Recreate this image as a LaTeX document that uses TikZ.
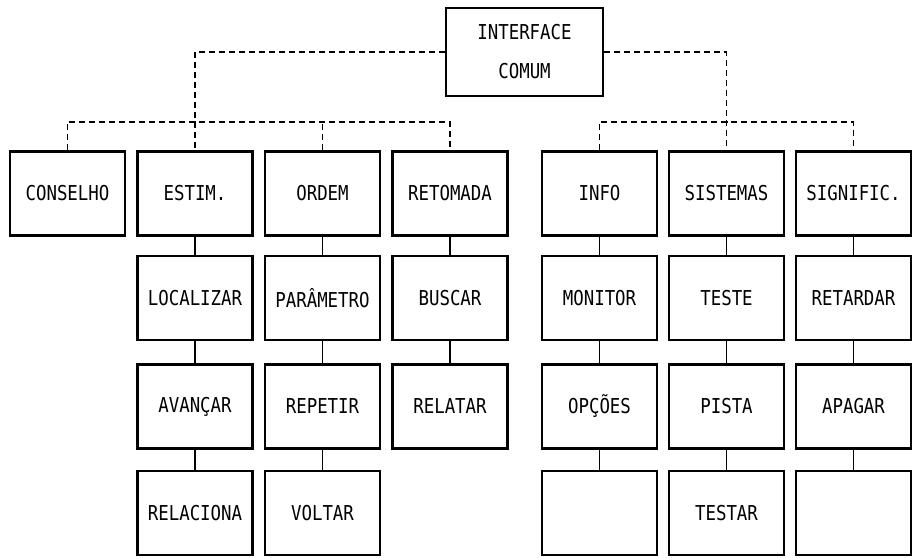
\documentclass[tikz,border=0pt]{standalone}
\usepackage{fontspec}
\newfontfamily\dotfont[FakeStretch=0.85]{DejaVu Sans Mono}
\usetikzlibrary{positioning}

\begin{document}
\begin{tikzpicture}[x=1pt,y=-1pt,
  blk/.style={draw,line width=2.4pt,minimum width=115pt,minimum height=84pt,inner sep=2pt,
    font=\dotfont\fontsize{20.5}{24}\selectfont},
  bus/.style={line width=1.3pt,dash pattern=on 6pt off 4pt},
  link/.style={line width=1.3pt}]
\useasboundingbox (0,0) rectangle (915,557);
% topo
\node[blk,minimum width=157pt,minimum height=88pt,align=center,
  font=\dotfont\fontsize{20.5}{39}\selectfont] (interface) at (524.5,52) {INTERFACE\\COMUM};
% primeira linha
\node[blk] (conselho) at (67.5,193.5) {CONSELHO};
\node[blk] (estim) at (195,193.5) {ESTIM.};
\node[blk] (ordem) at (322.5,193.5) {ORDEM};
\node[blk] (retomada) at (450,193.5) {RETOMADA};
\node[blk] (info) at (599.5,193.5) {INFO};
\node[blk] (sistemas) at (726.5,193.5) {SISTEMAS};
\node[blk] (signific) at (853.5,193.5) {SIGNIFIC.};
% segunda linha
\node[blk] (localizar) at (195,298) {LOCALIZAR};
\node[blk] (parametro) at (322.5,298) {PARÂMETRO};
\node[blk] (buscar) at (450,298) {BUSCAR};
\node[blk] (monitor) at (599.5,298) {MONITOR};
\node[blk] (teste) at (726.5,298) {TESTE};
\node[blk] (retardar) at (853.5,298) {RETARDAR};
% terceira linha
\node[blk] (avancar) at (195,406.5) {AVANÇAR};
\node[blk] (repetir) at (322.5,406.5) {REPETIR};
\node[blk] (relatar) at (450,406.5) {RELATAR};
\node[blk] (opcoes) at (599.5,406.5) {OPÇÕES};
\node[blk] (pista) at (726.5,406.5) {PISTA};
\node[blk] (apagar) at (853.5,406.5) {APAGAR};
% quarta linha
\node[blk] (relaciona) at (195,513) {RELACIONA};
\node[blk] (voltar) at (322.5,513) {VOLTAR};
\node[blk] (vazioA) at (599.5,513) {};
\node[blk] (testar) at (726.5,513) {TESTAR};
\node[blk] (vazioB) at (853.5,513) {};
% barramentos tracejados
\coordinate (busL) at (195,122);
\coordinate (busR) at (726.5,122);
\draw[bus] (interface.west) -| (estim.north);
\draw[bus] (conselho.north) |- (busL) -| (retomada.north);
\draw[bus] (ordem.north) -- (ordem.north |- busL);
\draw[bus] (interface.east) -| (sistemas.north);
\draw[bus] (info.north) |- (busR) -| (signific.north);
% ligacoes
\draw[link] (estim) -- (localizar);
\draw[link] (localizar) -- (avancar);
\draw[link] (avancar) -- (relaciona);
\draw[link] (ordem) -- (parametro);
\draw[link] (parametro) -- (repetir);
\draw[link] (repetir) -- (voltar);
\draw[link] (retomada) -- (buscar);
\draw[link] (buscar) -- (relatar);
\draw[link] (info) -- (monitor);
\draw[link] (monitor) -- (opcoes);
\draw[link] (opcoes) -- (vazioA);
\draw[link] (sistemas) -- (teste);
\draw[link] (teste) -- (pista);
\draw[link] (pista) -- (testar);
\draw[link] (signific) -- (retardar);
\draw[link] (retardar) -- (apagar);
\draw[link] (apagar) -- (vazioB);
\end{tikzpicture}
\end{document}
